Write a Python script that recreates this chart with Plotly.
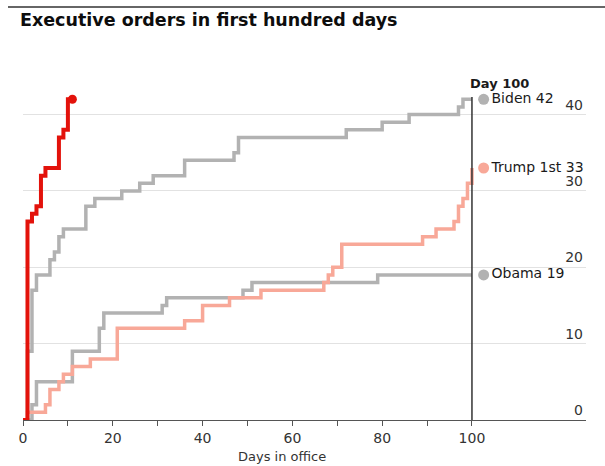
import plotly.graph_objects as go

# ---- data (cumulative executive orders by day in office) ----
trump2_days = [0, 1, 2, 3, 4, 5, 8, 9, 10, 11]
trump2_vals = [0, 26, 27, 28, 32, 33, 37, 38, 42, 42]

biden_days = [0, 1, 2, 3, 6, 7, 8, 9, 14, 16, 22, 26, 29, 36, 47, 48, 72, 80, 86, 97, 98, 100]
biden_vals = [0, 9, 17, 19, 21, 22, 24, 25, 28, 29, 30, 31, 32, 34, 35, 37, 38, 39, 40, 41, 42, 42]

trump1_days = [0, 1, 5, 6, 8, 9, 11, 15, 21, 36, 40, 46, 53, 67, 68, 69, 71, 89, 92, 96, 97, 98, 99, 100]
trump1_vals = [0, 1, 2, 4, 5, 6, 7, 8, 12, 13, 15, 16, 17, 18, 19, 20, 23, 24, 25, 26, 28, 29, 31, 33]

obama_days = [0, 2, 3, 11, 17, 18, 31, 32, 49, 51, 79, 100]
obama_vals = [0, 2, 5, 9, 12, 14, 15, 16, 17, 18, 19, 19]

end_labels = ["Obama 19", "Trump 1st 33", "Biden 42"]
end_vals = [obama_vals[-1], trump1_vals[-1], biden_vals[-1]]

x_tickvals = [0, 10, 20, 30, 40, 50, 60, 70, 80, 90, 100]
x_ticktext = ["0", "", "20", "", "40", "", "60", "", "80", "", "100"]
y_tickvals = [0, 10, 20, 30, 40]

# ---- styles ----
RED = "#e3120b"
GREY = "#b2b2b2"
SALMON = "#f8a898"
FONT = "DejaVu Sans"
W, H = 605, 466
ML, MR, MT, MB = 23, 19, 84, 46
PH = H - MT - MB
PW = W - ML - MR

fig = go.Figure()

fig.add_trace(go.Scatter(x=obama_days, y=obama_vals, mode="lines", line_shape="hv",
                         line=dict(color=GREY, width=3.5), hoverinfo="skip"))
fig.add_trace(go.Scatter(x=biden_days, y=biden_vals, mode="lines", line_shape="hv",
                         line=dict(color=GREY, width=3.5), hoverinfo="skip"))
fig.add_trace(go.Scatter(x=trump1_days, y=trump1_vals, mode="lines", line_shape="hv",
                         line=dict(color=SALMON, width=3.5), hoverinfo="skip"))
fig.add_trace(go.Scatter(x=trump2_days, y=trump2_vals, mode="lines", line_shape="hv",
                         line=dict(color=RED, width=4), hoverinfo="skip"))
fig.add_trace(go.Scatter(x=[trump2_days[-1]], y=[trump2_vals[-1]], mode="markers",
                         marker=dict(color=RED, size=9), hoverinfo="skip"))

# end-of-line dots with labels
LABEL_DAY = 102.6
fig.add_trace(go.Scatter(
    x=[LABEL_DAY] * 3, y=end_vals, mode="markers+text",
    marker=dict(color=[GREY, SALMON, GREY], size=11),
    text=end_labels, textposition="middle right",
    textfont=dict(family=FONT, size=14, color="#1a1a1a"),
    hoverinfo="skip", cliponaxis=False))

fig.update_layout(
    width=W, height=H,
    margin=dict(l=ML, r=MR, t=MT, b=MB),
    paper_bgcolor="white", plot_bgcolor="white",
    showlegend=False,
    font=dict(family=FONT, color="#333333"),
    xaxis=dict(range=[0, 125.4], tickmode="array", tickvals=x_tickvals, ticktext=x_ticktext,
               ticks="outside", ticklen=5, tickcolor="#555555", tickwidth=1,
               showline=True, linecolor="#555555", linewidth=1,
               showgrid=False, zeroline=False, automargin=False,
               tickfont=dict(family=FONT, size=14, color="#333333")),
    yaxis=dict(range=[0, 44], side="right", tickmode="array", tickvals=y_tickvals,
               ticks="", ticklabelposition="inside top", automargin=False,
               showgrid=True, gridcolor="#e2e2e2", gridwidth=1,
               zeroline=False, showline=False,
               tickfont=dict(family=FONT, size=14, color="#333333")),
)

# Day 100 reference line
fig.add_shape(type="line", xref="x", yref="y", x0=100, x1=100, y0=0, y1=42.3,
              line=dict(color="#333333", width=1.5))

# top rule
rule_y = (H - MB - 7) / PH
fig.add_shape(type="line", xref="paper", yref="paper",
              x0=(8 - ML) / PW, x1=(W - ML) / PW, y0=rule_y, y1=rule_y,
              line=dict(color="#333333", width=1.5))

fig.add_annotation(text="<b>Executive orders in first hundred days</b>", xref="paper", yref="paper",
                   x=(18 - ML) / PW, y=(H - MB - 20) / PH, xanchor="left", yanchor="middle",
                   showarrow=False,
                   font=dict(family=FONT, size=17.5, color="#0d0d0d"))

fig.add_annotation(text="<b>Day 100</b>", xref="x", yref="paper", x=100, y=(H - MB - 83) / PH,
                   xshift=-4, xanchor="left", yanchor="middle", showarrow=False,
                   font=dict(family=FONT, size=13, color="#1a1a1a"))

fig.add_annotation(text="Days in office", xref="paper", yref="paper",
                   x=(282 - ML) / PW, y=(H - MB - 456) / PH, xanchor="center", yanchor="middle",
                   showarrow=False, font=dict(family=FONT, size=13, color="#333333"))

fig.write_html("out.html", config={"displayModeBar": False},
               post_script="document.body.style.margin='0';")
